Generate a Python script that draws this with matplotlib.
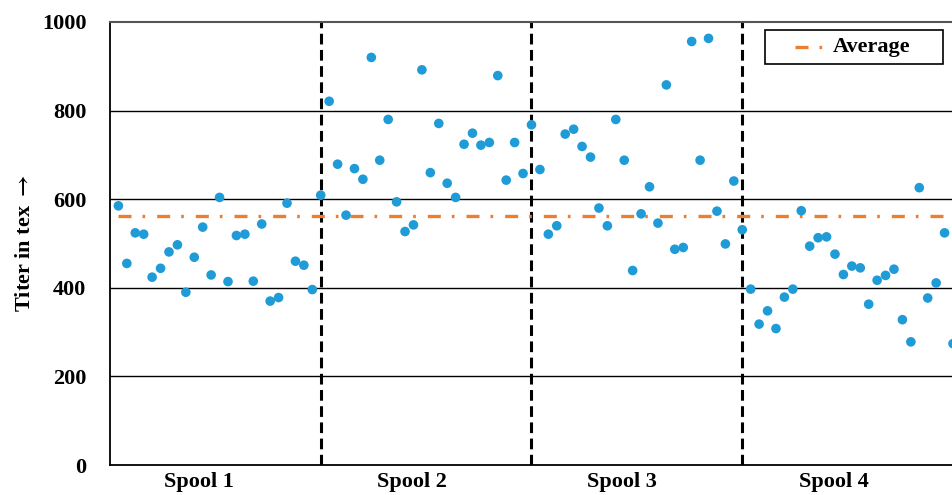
import matplotlib
matplotlib.use('Agg')
import matplotlib.pyplot as plt
from matplotlib.patches import Rectangle
import numpy as np

plt.rcParams['font.family'] = ['Liberation Serif', 'DejaVu Serif', 'DejaVu Sans']
plt.rcParams['font.weight'] = 'bold'
plt.rcParams['mathtext.fontset'] = 'stix'

# titer values per sample, 25 per spool
spool1 = [585, 455, 524, 521, 424, 444, 481, 497, 390, 469, 537, 429, 604,
          414, 518, 521, 415, 544, 370, 378, 591, 460, 451, 396, 609]
spool2 = [821, 679, 564, 669, 645, 920, 688, 780, 594, 527, 542, 892, 660,
          771, 636, 604, 724, 749, 722, 728, 879, 643, 728, 658, 768]
spool3 = [667, 521, 540, 747, 758, 719, 695, 580, 540, 780, 688, 439, 567,
          628, 546, 858, 487, 491, 956, 688, 963, 573, 499, 641, 531]
spool4 = [397, 318, 348, 308, 379, 397, 574, 494, 513, 515, 476, 430, 449,
          445, 363, 417, 428, 442, 328, 278, 626, 377, 411, 524, 274]
average = 562
spool_names = ['Spool 1', 'Spool 2', 'Spool 3', 'Spool 4']
spool_label_pos = [10.6, 35.8, 60.7, 85.9]
dividers = [25, 50, 75]

titer = spool1 + spool2 + spool3 + spool4
sample = np.arange(1, len(titer) + 1)

avg_style = dict(color='#ED7D31', lw=2.4, linestyle=(0, (3.9, 3.3, 0.8, 3.6)))

fig = plt.figure(figsize=(9.53, 4.95), dpi=100)
ax = fig.add_axes([0.1154, 0.0606, 0.8846, 0.895])

for yv in [200, 400, 600, 800]:
    ax.axhline(yv, color='black', lw=1.0, zorder=1)

for xv in dividers:
    ax.axvline(xv, color='black', lw=2.2, linestyle=(0, (3.5, 1.8)), zorder=2)

ax.plot([sample[0], sample[-1] + 1], [average, average], zorder=3, **avg_style)

ax.scatter(sample, titer, s=48, color='#1F9BD7', edgecolors='none', zorder=4)

ax.set_xlim(0, 100)
ax.set_ylim(0, 1000)
ax.set_yticks([0, 200, 400, 600, 800, 1000])
ax.set_xticks(spool_label_pos)
ax.set_xticklabels(spool_names)
ax.tick_params(axis='both', length=0, labelsize=16)
ax.tick_params(axis='y', pad=17)
ax.tick_params(axis='x', pad=5)
ax.set_ylabel(r'Titer in tex $\rightarrow$', fontsize=16, fontweight='bold',
              labelpad=5)

ax.spines['right'].set_visible(False)
ax.spines['top'].set_color('#555555')
ax.spines['top'].set_linewidth(1.5)
ax.spines['left'].set_linewidth(1.3)
ax.spines['bottom'].set_linewidth(1.3)

# legend box drawn like the original (wide left padding)
ax.add_patch(Rectangle((0.777, 0.905), 0.211, 0.077, transform=ax.transAxes,
                       facecolor='white', edgecolor='black', lw=1.2, zorder=6))
ax.plot([0.813, 0.845], [0.9436, 0.9436], transform=ax.transAxes, zorder=7,
        **avg_style)
ax.text(0.857, 0.9436, 'Average', transform=ax.transAxes, fontsize=16,
        fontweight='bold', va='center', ha='left', zorder=7)

fig.savefig('out.png', dpi=100)
